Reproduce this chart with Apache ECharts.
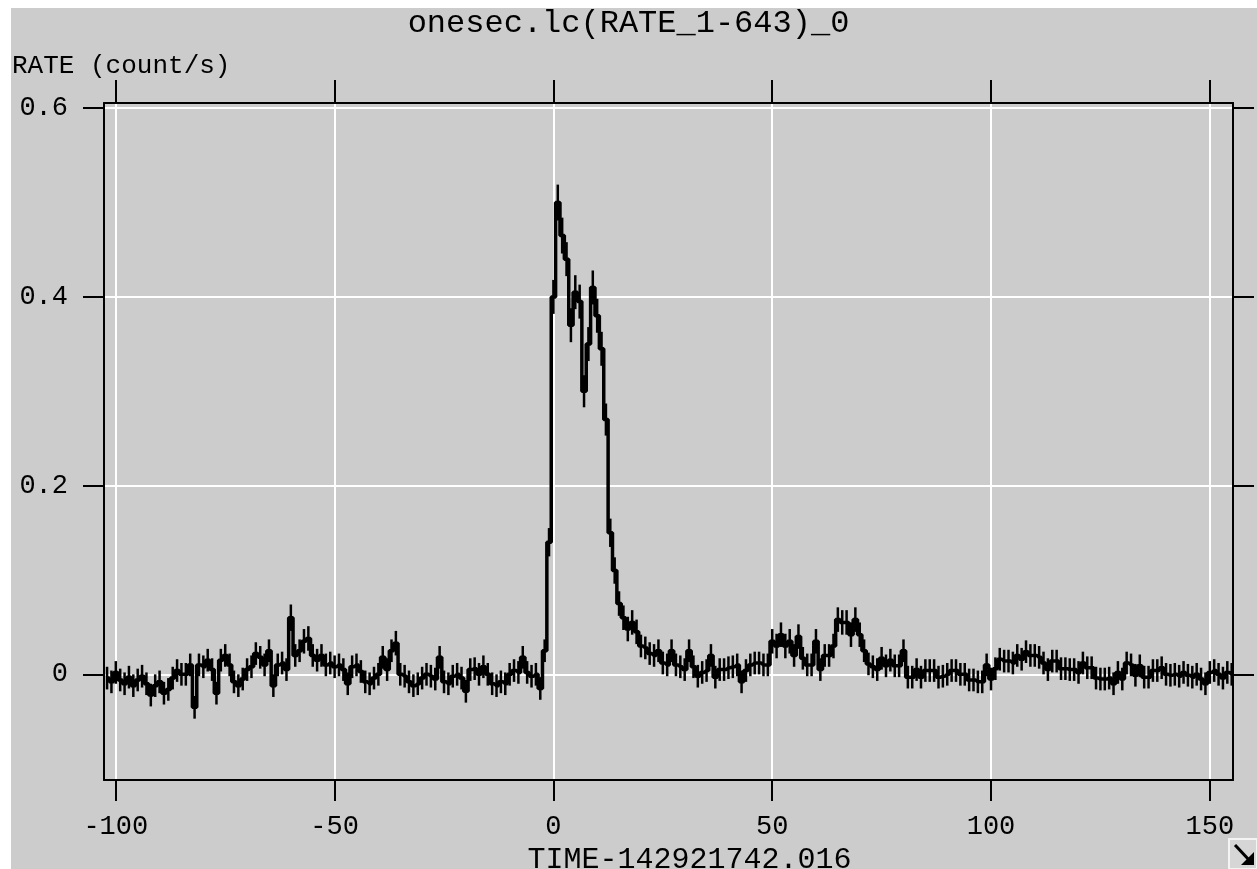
<!DOCTYPE html>
<html><head><meta charset="utf-8">
<script src="https://cdn.jsdelivr.net/npm/echarts@6/dist/echarts.min.js"></script>
<style>
html,body{margin:0;padding:0;background:#fff;overflow:hidden;}
#bg{position:absolute;left:11px;top:8px;width:1246px;height:861px;background:#cccccc;}
#main{position:absolute;left:0;top:0;width:1257px;height:869px;}
</style></head><body>
<div id="bg"></div><div id="main"></div>
<script>
// ---- data (1-s bins) ----
const timeStart = -102;   // centre of first bin, s
const binSize = 1;
const rates = [
 -0.004,-0.008, 0.002,-0.006,-0.010,-0.003,-0.012,-0.006,-0.002,-0.010,
 -0.022,-0.012,-0.008,-0.020,-0.016,-0.004, 0.004, 0.000, 0.000, 0.010,
 -0.035, 0.010, 0.008, 0.015, 0.005,-0.020, 0.015, 0.020, 0.010,-0.008,
 -0.012,-0.005, 0.005, 0.008, 0.022, 0.018, 0.010, 0.025,-0.012, 0.010,
  0.012, 0.005, 0.060, 0.020, 0.025, 0.035, 0.038, 0.020, 0.015, 0.020,
  0.010, 0.012, 0.008, 0.010, 0.005,-0.010, 0.008, 0.010, 0.003,-0.008,
 -0.010,-0.004, 0.000, 0.018, 0.005, 0.025, 0.033, 0.000,-0.002,-0.008,
 -0.012,-0.010,-0.004, 0.000,-0.002,-0.005, 0.018,-0.008,-0.010,-0.002,
  0.000,-0.004,-0.018, 0.005, 0.006, 0.000, 0.008, 0.000,-0.010,-0.012,
 -0.008,-0.010, 0.000, 0.004, 0.002, 0.018, 0.002,-0.002, 0.000,-0.015,
  0.025, 0.140, 0.400, 0.500, 0.465, 0.440, 0.370, 0.405, 0.395, 0.300,
  0.350, 0.410, 0.380, 0.345, 0.270, 0.150, 0.110, 0.075, 0.060, 0.048,
  0.055, 0.045, 0.030, 0.028, 0.022, 0.020, 0.025, 0.012, 0.010, 0.025,
  0.010, 0.008, 0.005, 0.025, 0.008,-0.002, 0.002, 0.004, 0.020,-0.003,
  0.005, 0.005, 0.007, 0.008, 0.010,-0.008, 0.004, 0.010, 0.012, 0.012,
  0.010, 0.010, 0.035, 0.030, 0.042, 0.030, 0.035, 0.020, 0.040, 0.017,
  0.010, 0.010, 0.035, 0.005, 0.020, 0.020, 0.030, 0.058, 0.055, 0.055,
  0.042, 0.058, 0.042, 0.025, 0.011, 0.008, 0.005, 0.017, 0.009, 0.015,
  0.009, 0.009, 0.025,-0.003,-0.003, 0.005,-0.003, 0.004, 0.004, 0.004,
 -0.003,-0.002, 0.000, 0.004, 0.004, 0.000, 0.000,-0.006,-0.006,-0.008,
 -0.008, 0.010,-0.005, 0.006, 0.016, 0.014, 0.014, 0.012, 0.020, 0.016,
  0.024, 0.020, 0.020, 0.018, 0.012, 0.005, 0.014, 0.014, 0.006, 0.006,
  0.005, 0.005, 0.002, 0.012, 0.007, 0.007,-0.004,-0.005,-0.005,-0.004,
 -0.010, 0.002,-0.005, 0.012, 0.010,-0.001, 0.009,-0.003,-0.003, 0.004,
  0.004, 0.007, 0.000,-0.001, 0.000,-0.002, 0.002,-0.001,-0.003, 0.000,
 -0.005,-0.010, 0.002, 0.004, 0.000,-0.004, 0.002, 0.000
];
const errors = [
 0.012,0.012,0.012,0.012,0.012,0.012,0.012,0.012,0.012,0.012,
 0.012,0.012,0.012,0.012,0.012,0.012,0.012,0.012,0.012,0.012,
 0.012,0.012,0.012,0.012,0.012,0.012,0.012,0.012,0.012,0.012,
 0.012,0.012,0.012,0.012,0.012,0.012,0.012,0.012,0.012,0.012,
 0.012,0.012,0.014,0.012,0.012,0.013,0.013,0.012,0.012,0.012,
 0.012,0.012,0.012,0.012,0.012,0.012,0.012,0.012,0.012,0.012,
 0.012,0.012,0.012,0.012,0.012,0.012,0.013,0.012,0.012,0.012,
 0.012,0.012,0.012,0.012,0.012,0.012,0.012,0.012,0.012,0.012,
 0.012,0.012,0.012,0.012,0.012,0.012,0.012,0.012,0.012,0.012,
 0.012,0.012,0.012,0.012,0.012,0.012,0.012,0.012,0.012,0.012,
 0.012,0.015,0.018,0.019,0.019,0.018,0.018,0.018,0.018,0.017,
 0.018,0.018,0.018,0.018,0.017,0.015,0.014,0.013,0.013,0.013,
 0.013,0.013,0.012,0.012,0.012,0.012,0.012,0.012,0.012,0.012,
 0.012,0.012,0.012,0.012,0.012,0.012,0.012,0.012,0.012,0.012,
 0.012,0.012,0.012,0.012,0.012,0.012,0.012,0.012,0.012,0.012,
 0.012,0.012,0.013,0.013,0.013,0.013,0.013,0.012,0.013,0.012,
 0.012,0.012,0.013,0.012,0.012,0.012,0.013,0.013,0.013,0.013,
 0.013,0.013,0.013,0.012,0.012,0.012,0.012,0.012,0.012,0.012,
 0.012,0.012,0.012,0.012,0.012,0.012,0.012,0.012,0.012,0.012,
 0.012,0.012,0.012,0.012,0.012,0.012,0.012,0.012,0.012,0.012,
 0.012,0.012,0.012,0.012,0.012,0.012,0.012,0.012,0.012,0.012,
 0.012,0.012,0.012,0.012,0.012,0.012,0.012,0.012,0.012,0.012,
 0.012,0.012,0.012,0.012,0.012,0.012,0.012,0.012,0.012,0.012,
 0.012,0.012,0.012,0.012,0.012,0.012,0.012,0.012,0.012,0.012,
 0.012,0.012,0.012,0.012,0.012,0.012,0.012,0.012,0.012,0.012,
 0.012,0.012,0.012,0.012,0.012,0.012,0.012,0.012
];
const xTicks = [-100, -50, 0, 50, 100, 150];
const yTicks = [0, 0.2, 0.4, 0.6];
const xRange = [-102.7, 155.3];
const yRange = [-0.112, 0.6055];
const titleText = 'onesec.lc(RATE_1-643)_0';
const xName = 'TIME-142921742.016';
const yName = 'RATE (count/s)';

// ---- build ----
const times = rates.map((_, i) => timeStart + i * binSize);
const lineData = rates.map((v, i) => [times[i], v]);
const errData = rates.map((v, i) => [times[i], v - errors[i], v + errors[i]]);

const FONT = 'Liberation Mono';
const axisLineStyle = { color: '#000', width: 2 };
const tickStyle = { color: '#000', width: 2 };

const chart = echarts.init(document.getElementById('main'), null, { renderer: 'canvas', width: 1257, height: 869 });
chart.setOption({
  backgroundColor: 'transparent',
  animation: false,
  title: {
    text: titleText, left: 'center', top: 3,
    textStyle: { fontFamily: FONT, fontSize: 32, fontWeight: 'normal', color: '#000' }
  },
  grid: { left: 104, top: 103, width: 1129, height: 677, containLabel: false, outerBoundsMode: 'none' },
  xAxis: [{
    type: 'value', position: 'bottom', min: xRange[0], max: xRange[1],
    axisLine: { show: true, onZero: false, lineStyle: axisLineStyle },
    axisTick: { show: true, customValues: xTicks, length: 21, lineStyle: tickStyle },
    axisLabel: { customValues: xTicks, margin: 33, fontFamily: FONT, fontSize: 27, color: '#000', lineHeight: 27 },
    splitLine: { show: true, lineStyle: { color: '#fff', width: 2 } },
    name: xName, nameLocation: 'middle', nameGap: 62,
    nameTextStyle: { fontFamily: FONT, fontSize: 30, color: '#000', padding: [0, 0, 0, 42] }
  }, {
    type: 'value', position: 'top', min: xRange[0], max: xRange[1],
    axisLine: { show: true, onZero: false, lineStyle: axisLineStyle },
    axisTick: { show: true, customValues: xTicks, length: 23, lineStyle: tickStyle },
    axisLabel: { show: false },
    splitLine: { show: false }
  }],
  yAxis: [{
    type: 'value', position: 'left', min: yRange[0], max: yRange[1],
    axisLine: { show: true, onZero: false, lineStyle: axisLineStyle },
    axisTick: { show: true, customValues: yTicks, length: 21, lineStyle: tickStyle },
    axisLabel: { customValues: yTicks, margin: 36, fontFamily: FONT, fontSize: 27, color: '#000',
      formatter: v => (v === 0 ? '0' : v.toFixed(1)) },
    splitLine: { show: true, lineStyle: { color: '#fff', width: 2 } },
    name: yName, nameLocation: 'end', nameGap: 24,
    nameTextStyle: { fontFamily: FONT, fontSize: 26, color: '#000', align: 'left', padding: [0, 0, 0, -92] }
  }, {
    type: 'value', position: 'right', min: yRange[0], max: yRange[1],
    axisLine: { show: true, onZero: false, lineStyle: axisLineStyle },
    axisTick: { show: true, customValues: yTicks, length: 21, lineStyle: tickStyle },
    axisLabel: { show: false },
    splitLine: { show: false }
  }],
  series: [{
    type: 'line', xAxisIndex: 0, yAxisIndex: 0, data: lineData,
    step: 'middle', symbol: 'none', z: 4,
    lineStyle: { color: '#000', width: 3.5 }
  }, {
    type: 'custom', xAxisIndex: 0, yAxisIndex: 0, data: errData, z: 3,
    renderItem: (params, api) => {
      const lo = api.coord([api.value(0), api.value(1)]);
      const hi = api.coord([api.value(0), api.value(2)]);
      return { type: 'line', shape: { x1: lo[0], y1: lo[1], x2: hi[0], y2: hi[1] },
        style: { stroke: '#000', lineWidth: 2.5 } };
    }
  }],
  graphic: [{
    type: 'group', left: 1228, top: 838, children: [
      { type: 'rect', shape: { x: 0, y: 0, width: 28, height: 30 }, style: { fill: '#d6d6d6', stroke: '#f4f4f4', lineWidth: 2 } },
      { type: 'line', shape: { x1: 6, y1: 6, x2: 21, y2: 22 }, style: { stroke: '#000', lineWidth: 3 } },
      { type: 'polygon', shape: { points: [[25, 26], [25, 13], [12, 26]] }, style: { fill: '#000' } }
    ]
  }]
});
</script>
</body></html>
